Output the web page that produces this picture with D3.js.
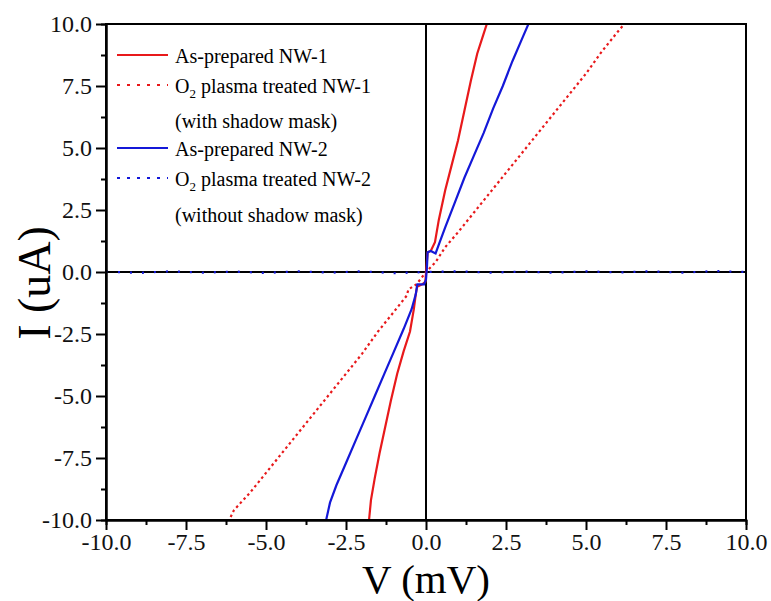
<!DOCTYPE html>
<html>
<head>
<meta charset="utf-8">
<script src="https://cdn.jsdelivr.net/npm/d3@7"></script>
<style>
  body { margin: 0; background: white; }
  text { font-family: "Liberation Serif", "Times New Roman", serif; }
</style>
</head>
<body>
<div id="chart"></div>
<script>
const width = 771, height = 601
const margin = {left: 106, right: 25, top: 24, bottom: 81}

// tick values
const majorTicks = [-10, -7.5, -5, -2.5, 0, 2.5, 5, 7.5, 10]
const minorTicks = [-8.75, -6.25, -3.75, -1.25, 1.25, 3.75, 6.25, 8.75]

// series, [V (mV), I (uA)]
const nw1Prepared = [[-10,-10],[-1.78,-10],[-1.72,-9.2],[-1.6,-8.3],[-1.45,-7.3],[-1.3,-6.4],[-1.1,-5.2],[-0.9,-4.1],[-0.7,-3.2],[-0.5,-2.4],[-0.38,-1.5],[-0.32,-0.9],[-0.28,-0.6],[-0.12,-0.5],[-0.02,-0.4],[0.02,0.3],[0.05,0.8],[0.15,0.85],[0.28,1.2],[0.4,2.1],[0.6,3.3],[0.8,4.3],[1.0,5.3],[1.2,6.5],[1.4,7.7],[1.6,8.8],[1.8,9.6],[1.9,10],[10,10]]
const nw1Plasma = [[-10,-10],[-6.15,-10],[-6.0,-9.6],[-5.5,-8.9],[-5.0,-8.1],[-4.5,-7.3],[-4.0,-6.5],[-3.5,-5.7],[-3.0,-4.9],[-2.5,-4.1],[-2.0,-3.3],[-1.5,-2.4],[-1.0,-1.6],[-0.6,-0.95],[-0.55,-0.7],[-0.3,-0.5],[0,0],[0.3,0.4],[0.6,1.0],[1.0,1.6],[1.5,2.4],[2.0,3.2],[2.5,4.0],[3.0,4.8],[3.5,5.6],[4.0,6.4],[4.5,7.2],[5.0,8.0],[5.5,8.9],[6.0,9.7],[6.2,10],[10,10]]
const nw2Prepared = [[-10,-10],[-3.12,-10],[-3.0,-9.3],[-2.8,-8.6],[-2.5,-7.7],[-2.2,-6.8],[-1.9,-5.9],[-1.6,-5.0],[-1.3,-4.1],[-1.0,-3.2],[-0.7,-2.3],[-0.45,-1.5],[-0.32,-0.9],[-0.27,-0.5],[-0.06,-0.5],[0.0,-0.3],[0.03,0.2],[0.05,0.8],[0.15,0.85],[0.3,0.75],[0.4,1.1],[0.6,1.8],[0.9,2.8],[1.2,3.8],[1.5,4.7],[1.8,5.6],[2.1,6.6],[2.4,7.5],[2.7,8.5],[3.0,9.4],[3.2,10],[10,10]]
const nw2Plasma = [[-10,0.02],[-9,-0.04],[-8,0.03],[-7,-0.03],[-6,0.02],[-5,-0.04],[-4,0.03],[-3,-0.03],[-2,0.03],[-1,-0.05],[0,0],[1,0.03],[2,-0.03],[3,0.02],[4,-0.03],[5,0.03],[6,-0.02],[7,0.03],[8,-0.03],[9,0.04],[10,0]]

// legend
const legendRows = [
	{label: 'As-prepared NW-1', color: '#e8191b', dash: null},
	{label: 'O|2| plasma treated NW-1', color: '#e8191b', dash: '3,7'},
	{label: '(with shadow mask)', color: null},
	{label: 'As-prepared NW-2', color: '#1418d8', dash: null},
	{label: 'O|2| plasma treated NW-2', color: '#1418d8', dash: '3,7'},
	{label: '(without shadow mask)', color: null}
]
const legendY = [55, 85, 120, 148, 178, 214]

const fmt = t => t.toFixed(1)

var svg = d3.select('#chart').append('svg')
	.attr('width', width)
	.attr('height', height)

var x = d3.scaleLinear().domain([-10, 10]).range([margin.left, width - margin.right])
var y = d3.scaleLinear().domain([-10, 10]).range([height - margin.bottom, margin.top])

var line = d3.line().x(d => x(d[0])).y(d => y(d[1]))

// zero lines
svg.append('line')
	.attr('x1', x(-10)).attr('x2', x(10))
	.attr('y1', y(0)).attr('y2', y(0))
	.style('stroke', 'black').style('stroke-width', 2)
svg.append('line')
	.attr('x1', x(0)).attr('x2', x(0))
	.attr('y1', y(-10)).attr('y2', y(10))
	.style('stroke', 'black').style('stroke-width', 2)

// draw curves, blue on top of red
var curves = [
	{data: nw1Prepared, color: '#e8191b', dash: null},
	{data: nw1Plasma, color: '#e8191b', dash: '2.5,3'},
	{data: nw2Prepared, color: '#1418d8', dash: null},
	{data: nw2Plasma, color: '#1418d8', dash: '2,10'}
]
svg.selectAll('.curve')
	.data(curves)
	.enter()
	.append('path')
	.attr('class', 'curve')
	.attr('d', d => line(d.data))
	.style('fill', 'none')
	.style('stroke', d => d.color)
	.style('stroke-width', 2.2)
	.style('stroke-dasharray', d => d.dash)

// frame
svg.append('rect')
	.attr('x', x(-10)).attr('y', y(10))
	.attr('width', x(10) - x(-10)).attr('height', y(-10) - y(10))
	.style('fill', 'none').style('stroke', 'black').style('stroke-width', 2)

// axes
var gx = svg.append('g').attr('transform', 'translate(0,' + y(-10) + ')')
gx.call(d3.axisBottom(x).tickValues(majorTicks).tickSize(10).tickSizeOuter(0).tickPadding(3).tickFormat(fmt))
svg.append('g').attr('transform', 'translate(0,' + y(-10) + ')')
	.call(d3.axisBottom(x).tickValues(minorTicks).tickSize(5).tickFormat(''))
var gy = svg.append('g').attr('transform', 'translate(' + x(-10) + ',0)')
gy.call(d3.axisLeft(y).tickValues(majorTicks).tickSize(10).tickSizeOuter(0).tickPadding(4).tickFormat(fmt))
svg.append('g').attr('transform', 'translate(' + x(-10) + ',0)')
	.call(d3.axisLeft(y).tickValues(minorTicks).tickSize(5).tickFormat(''))

svg.selectAll('.domain').style('stroke', 'black').style('stroke-width', 2)
svg.selectAll('.tick line').style('stroke', 'black').style('stroke-width', 2)
svg.selectAll('.tick text')
	.style('font-family', '"Liberation Serif", "Times New Roman", serif')
	.style('font-size', '24px')
	.style('fill', '#111')

// axis titles
svg.append('text')
	.attr('x', x(0))
	.attr('y', 593)
	.attr('text-anchor', 'middle')
	.style('font-size', '41px')
	.text('V (mV)')
svg.append('text')
	.attr('transform', 'translate(50,283) rotate(-90)')
	.attr('text-anchor', 'middle')
	.style('font-size', '46px')
	.text('I (uA)')

// legend
var lg = svg.append('g')
legendRows.forEach((r, i) => {
	let ly = legendY[i]
	if (r.color) {
		lg.append('line')
			.attr('x1', 117).attr('x2', 168)
			.attr('y1', ly).attr('y2', ly)
			.style('stroke', r.color)
			.style('stroke-width', 2.2)
			.style('stroke-dasharray', r.dash)
	}
	let t = lg.append('text')
		.attr('x', 175)
		.attr('y', ly + 8)
		.style('font-size', '20px')
	let parts = r.label.split('|')
	parts.forEach((p, j) => {
		if (j % 2 == 1) {
			t.append('tspan').attr('dy', 5).style('font-size', '13px').text(p)
		} else {
			t.append('tspan').attr('dy', j ? -5 : 0).text(p)
		}
	})
})
</script>
</body>
</html>
